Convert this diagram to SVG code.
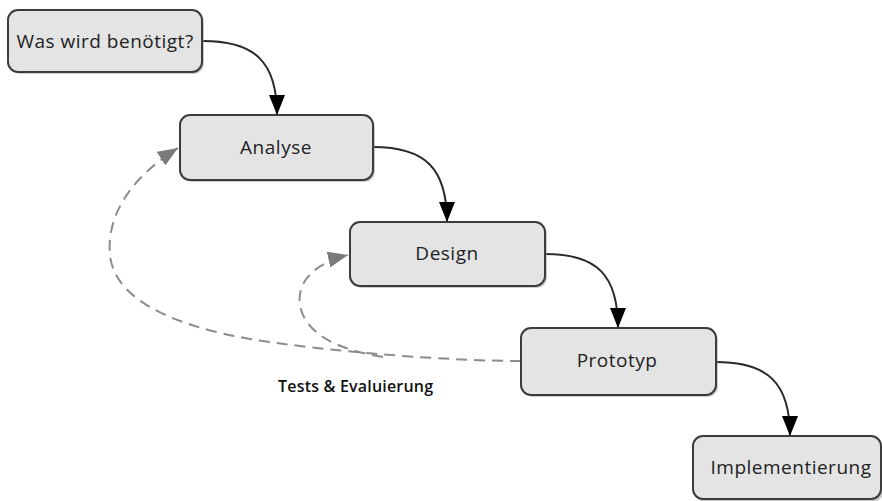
<svg xmlns="http://www.w3.org/2000/svg" width="882" height="501" viewBox="0 0 882 501">
<defs>
<style>
.box{fill:#e4e4e4;stroke:#3c3c3c;stroke-width:2}
.shadow{fill:#9a9a9a;opacity:0.5}
.lbl{font-family:"Open Sans","DejaVu Sans",sans-serif;font-size:19px;letter-spacing:0.5px;fill:#222;text-anchor:middle;dominant-baseline:central}
.flow{fill:none;stroke:#2a2a2a;stroke-width:2}
.fb{fill:none;stroke:#8c8c8c;stroke-width:2;stroke-dasharray:11 7}
.note{font-family:"Open Sans","DejaVu Sans",sans-serif;font-size:16px;font-weight:600;letter-spacing:0.2px;fill:#111}
</style>
<marker id="ab" markerUnits="userSpaceOnUse" markerWidth="20" markerHeight="16" refX="20" refY="8" orient="auto" viewBox="0 0 20 16">
<path d="M0,0 L20,8 L0,16 z" fill="#000"/>
</marker>
<marker id="ag" markerUnits="userSpaceOnUse" markerWidth="20" markerHeight="16" refX="20" refY="8" orient="auto" viewBox="0 0 20 16">
<path d="M0,0 L20,8 L0,16 z" fill="#7a7a7a"/>
</marker>
</defs>
<rect width="882" height="501" fill="#fff"/>
<g id="connectors">
<path class="flow" marker-end="url(#ab)" d="M203,41 C255,41 277,62 277,115"/>
<path class="flow" marker-end="url(#ab)" d="M373,147 C425,147 447,168 447,222"/>
<path class="flow" marker-end="url(#ab)" d="M545,254 C597,254 618,275 618,328"/>
<path class="flow" marker-end="url(#ab)" d="M716,362 C768,362 790,383 790,436"/>
<path class="fb" marker-end="url(#ag)" d="M521,361 C450,361 330,352 250,339 C170,325 114,298 110,255 C106,212 135,175 178,148"/>
<path class="fb" marker-end="url(#ag)" d="M383,357 C340,350 305,335 300,305 C296,280 318,262 348,255"/>
<text class="note" x="278" y="392">Tests &amp; Evaluierung</text>
</g>
<g id="n1">
<rect class="shadow" x="10" y="12" width="194" height="62" rx="10"/>
<rect class="box" x="8" y="10" width="194" height="62" rx="10"/>
<text class="lbl" x="105" y="41">Was wird benötigt?</text>
</g>
<g id="n2">
<rect class="shadow" x="182" y="117" width="193" height="65" rx="10"/>
<rect class="box" x="180" y="115" width="193" height="65" rx="10"/>
<text class="lbl" x="276" y="147">Analyse</text>
</g>
<g id="n3">
<rect class="shadow" x="352" y="224" width="195" height="64" rx="10"/>
<rect class="box" x="350" y="222" width="195" height="64" rx="10"/>
<text class="lbl" x="447" y="253">Design</text>
</g>
<g id="n4">
<rect class="shadow" x="523" y="330" width="195" height="67" rx="10"/>
<rect class="box" x="521" y="328" width="195" height="67" rx="10"/>
<text class="lbl" x="617" y="360">Prototyp</text>
</g>
<g id="n5">
<rect class="shadow" x="695" y="438" width="188" height="64" rx="10"/>
<rect class="box" x="693" y="436" width="188" height="63" rx="10"/>
<text class="lbl" x="791" y="467">Implementierung</text>
</g>
</svg>
